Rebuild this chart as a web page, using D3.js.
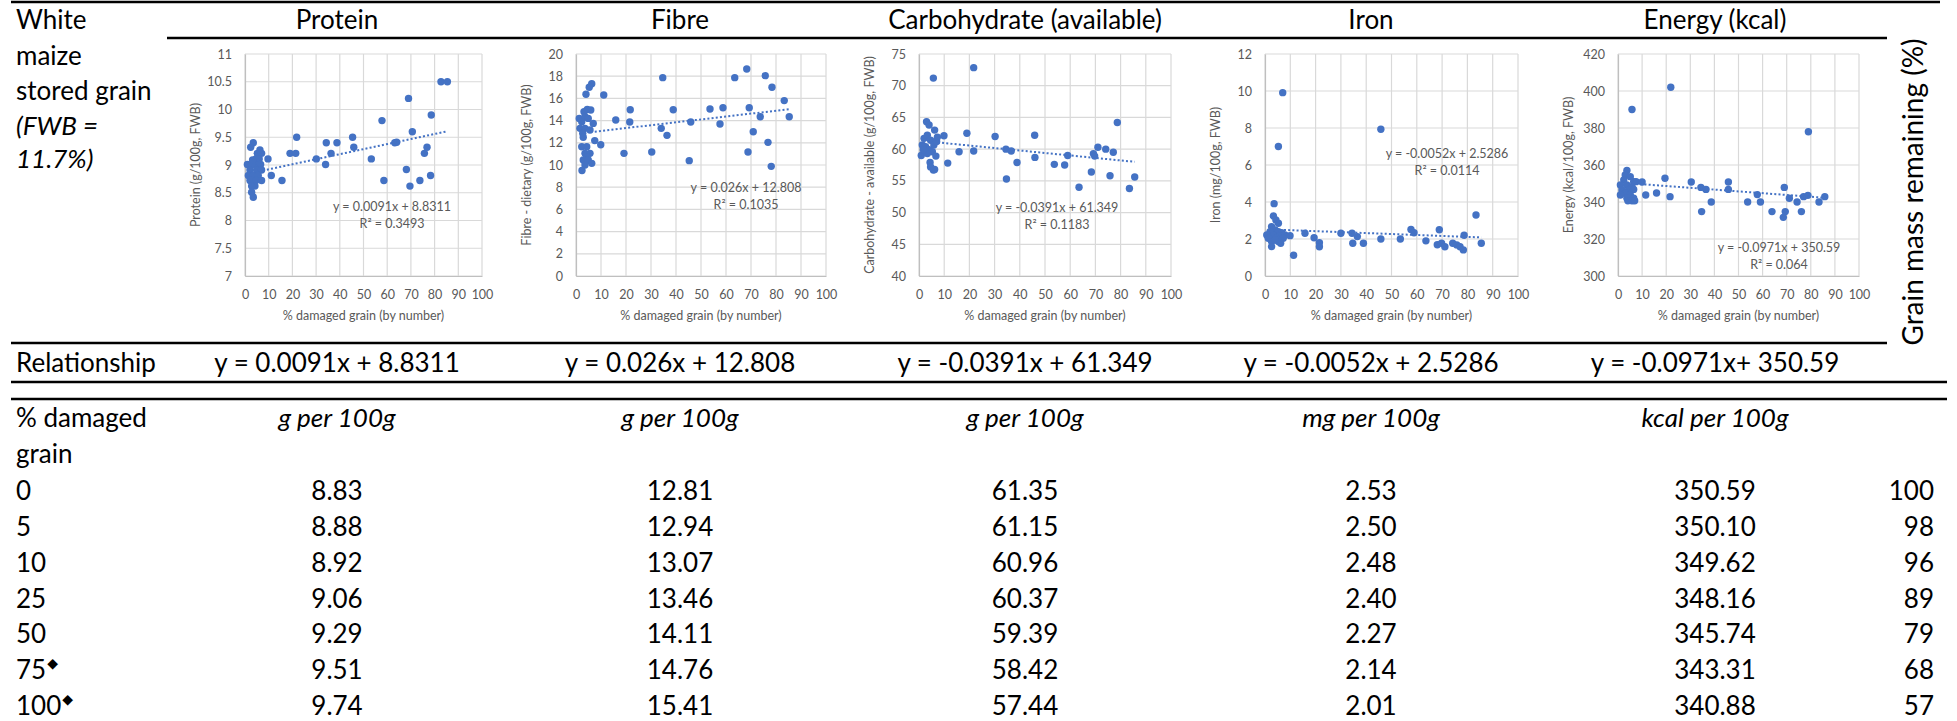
<!DOCTYPE html>
<html>
<head>
<meta charset="utf-8">
<script src="https://cdn.jsdelivr.net/npm/d3@7"></script>
<style>
  body { margin: 0; background: #fff; }
  text { font-family: Lato, "Noto Sans", "DejaVu Sans", sans-serif; }
</style>
</head>
<body>
<svg id="chart" width="1957" height="721"></svg>
<script>
// ---- Data -------------------------------------------------------------
const nutrients = ["Protein", "Fibre", "Carbohydrate (available)", "Iron", "Energy (kcal)"];
const yTitles = ["Protein (g/100g, FWB)", "Fibre - dietary (g/100g, FWB)",
  "Carbohydrate - available (g/100g, FWB)", "Iron (mg/100g, FWB)", "Energy (kcal/100g, FWB)"];
const yDomains = [[7, 11], [0, 20], [40, 75], [0, 12], [300, 420]];
const yTickSteps = [0.5, 2, 5, 2, 20];
const xTicks = [0, 10, 20, 30, 40, 50, 60, 70, 80, 90, 100];

// Linear trendlines (y = slope * x + intercept) and their R²
const slopes = ["0.0091", "0.026", "-0.0391", "-0.0052", "-0.0971"];
const intercepts = ["8.8311", "12.808", "61.349", "2.5286", "350.59"];
const rSquared = ["0.3493", "0.1035", "0.1183", "0.0114", "0.064"];
const relationships = ["y = 0.0091x + 8.8311", "y = 0.026x + 12.808", "y = -0.0391x + 61.349",
  "y = -0.0052x + 2.5286", "y = -0.0971x+ 350.59"];

// Samples: [% damaged grain, content]
const proteinPts = [
  [3.5,9.40],[2.4,9.32],[1.0,9.01],[5.2,9.21],[7.0,9.21],[4.6,9.11],[6.0,9.11],[4.2,9.01],[6.6,9.01],
  [2.8,9.01],[2.1,8.91],[4.9,8.91],[7.0,8.91],[1.4,8.81],[3.5,8.81],[5.6,8.81],[2.1,8.72],[4.6,8.72],
  [7.0,8.72],[4.2,8.62],[2.8,8.62],[2.8,8.51],[3.5,8.42],[6.3,9.27],[3.2,9.09],
  [9.7,9.11],[11.1,8.81],[15.6,8.72],[19.0,9.21],[21.4,9.21],[21.8,9.5],[30.1,9.11],[34.0,9.01],
  [34.3,9.4],[36.3,9.21],[38.8,9.4],[45.4,9.5],[45.9,9.32],[53.3,9.11],[57.8,9.8],[58.6,8.72],
  [63.2,9.4],[64.0,9.41],[68.1,8.92],[69.0,10.2],[69.6,8.62],[70.6,9.6],[73.8,8.72],[75.7,9.21],[76.8,9.32],
  [78.3,8.81],[78.6,9.9],[82.7,10.5],[85.4,10.5]
];
const fibrePts = [
  [6.3,17.33],[5.3,17.0],[4.0,16.37],[4.5,15.0],[3.2,14.8],[1.3,14.2],[3.6,14.35],[4.9,14.2],[2.3,13.9],
  [6.9,13.75],[1.6,13.3],[3.6,13.3],[5.6,13.15],[2.7,12.85],[2.9,12.5],[7.5,12.2],[2.3,11.65],[4.3,11.65],
  [3.6,11.05],[5.6,11.05],[4.3,10.75],[2.9,10.45],[4.9,10.45],[6.3,10.15],[3.6,10.0],[2.4,9.5],[5.9,14.95],
  [9.9,11.83],[11.1,16.3],[15.9,14.05],[19.2,11.05],[21.5,13.87],[21.7,14.98],[30.3,11.17],[34.1,13.3],
  [34.7,17.87],[36.4,12.67],[38.9,14.98],[45.3,10.39],[45.9,13.87],[53.6,15.05],[57.6,13.7],[58.8,15.16],
  [63.5,17.87],[68.3,18.65],[68.8,11.17],[69.3,15.16],[70.9,13.0],[73.7,14.35],[75.7,18.05],[76.8,12.04],
  [78.1,9.88],[78.4,17.0],[83.3,15.8],[85.3,14.35]
];
const carbPts = [
  [3.0,64.33],[4.0,63.8],[6.2,63.0],[2.0,61.7],[3.3,62.2],[4.6,61.4],[1.3,60.65],[2.6,60.4],[5.9,60.65],
  [7.0,61.2],[7.3,61.9],[4.0,59.9],[0.9,59.0],[5.3,59.6],[6.7,58.9],[4.4,57.9],[4.6,57.2],[5.7,56.7],
  [6.2,56.8],[3.3,59.3],[1.7,59.9],[5.7,71.2],
  [9.9,62.1],[11.4,57.8],[15.9,59.6],[19.0,62.5],[21.7,72.85],[21.7,59.7],[30.2,62.0],[34.5,60.0],
  [34.7,55.3],[36.6,59.7],[38.9,57.9],[45.9,62.2],[46.0,58.7],[53.7,57.6],[57.8,57.5],[59.0,59.0],
  [63.5,54.0],[68.4,56.4],[69.2,59.3],[69.7,58.9],[71.0,60.3],[74.1,60.0],[75.8,55.8],[77.1,59.5],
  [78.7,64.2],[83.5,53.8],[85.6,55.6]
];
const ironPts = [
  [7.0,9.91],[5.3,7.0],[3.6,3.91],[3.3,3.24],[4.3,3.03],[5.3,2.85],[2.6,2.67],[4.0,2.49],[2.0,2.4],
  [5.3,2.4],[6.6,2.34],[0.7,2.22],[3.3,2.22],[5.9,2.16],[7.9,2.22],[1.3,2.04],[4.6,2.04],[7.2,2.04],
  [2.6,1.86],[5.3,1.86],[2.6,1.59],[6.2,1.77],[4.0,1.95],
  [9.9,2.18],[11.3,1.12],[15.8,2.31],[19.4,2.07],[21.5,1.8],[21.5,1.58],[30.0,2.31],[34.4,2.31],
  [34.7,1.77],[36.5,2.13],[38.9,1.77],[45.8,7.93],[45.8,2.0],[53.5,2.0],[57.7,2.52],[58.9,2.34],
  [63.6,1.9],[68.1,1.69],[68.9,2.5],[69.8,1.77],[71.1,1.58],[74.2,1.77],[75.8,1.68],[77.1,1.58],
  [78.4,1.41],[78.7,2.2],[83.4,3.3],[85.5,1.77]
];
const energyPts = [
  [5.8,390],[3.7,357],[3.0,354.6],[5.1,353.7],[2.4,351.9],[6.5,351],[1.0,349.2],[3.7,349.2],[5.8,348.3],
  [1.7,346.5],[4.4,346.5],[6.5,346.8],[3.0,344.7],[5.1,343.8],[1.0,343.8],[3.7,342.0],[6.5,342.0],
  [4.1,340.7],[5.8,340.7],[6.9,340.7],[7.5,351.0],
  [10.0,350.8],[11.5,343.8],[16.0,344.9],[19.5,352.8],[21.6,342.9],[21.9,402],[30.4,350.8],[34.4,347.9],
  [34.7,334.8],[36.5,346.8],[38.7,340],[45.8,350.8],[45.8,346.8],[53.8,340],[57.8,344],[59.1,340],
  [63.9,334.8],[68.6,331.7],[69.0,347.9],[69.4,334.8],[71.1,342],[74.3,340],[76.1,334.8],[77.0,342.9],
  [78.8,343.6],[79.0,378],[83.4,340],[85.8,342.9]
];
const samples = [proteinPts, fibrePts, carbPts, ironPts, energyPts];

// Predicted composition table
const damageLevels = ["0", "5", "10", "25", "50", "75", "100"];
const flaggedLevels = ["75", "100"];
const units = ["g per 100g", "g per 100g", "g per 100g", "mg per 100g", "kcal per 100g"];
const proteinVals = ["8.83", "8.88", "8.92", "9.06", "9.29", "9.51", "9.74"];
const fibreVals = ["12.81", "12.94", "13.07", "13.46", "14.11", "14.76", "15.41"];
const carbVals = ["61.35", "61.15", "60.96", "60.37", "59.39", "58.42", "57.44"];
const ironVals = ["2.53", "2.50", "2.48", "2.40", "2.27", "2.14", "2.01"];
const energyVals = ["350.59", "350.10", "349.62", "348.16", "345.74", "343.31", "340.88"];
const tableVals = [proteinVals, fibreVals, carbVals, ironVals, energyVals];
const grainMass = ["100", "98", "96", "89", "79", "68", "57"];

// ---- Layout -----------------------------------------------------------
const plotLeft = [245, 576, 919, 1265, 1618];
const plotRight = [482, 826, 1171, 1518, 1859];
const plotTop = 54, plotBottom = 276;
const colCenter = [337, 680, 1025, 1371, 1715];
const eqPos = [[392, 206], [746, 187], [1057, 207], [1447, 153], [1779, 247]];
const bigFont = 26;
const gray = "#595959";
const blue = "#4472C4";

const svg = d3.select("#chart");
svg.append("rect").attr("width", 1957).attr("height", 721).attr("fill", "#fff");

// ---- Rules ------------------------------------------------------------
const rules = [
  [11, 1940, 2], [167, 1887, 38], [11, 1887, 343], [11, 1947, 382], [11, 1947, 399]
];
svg.selectAll("line.rule").data(rules).join("line")
  .attr("class", "rule")
  .attr("x1", d => d[0]).attr("x2", d => d[1])
  .attr("y1", d => d[2]).attr("y2", d => d[2])
  .attr("stroke", "#000").attr("stroke-width", 2.5);

// ---- Left header text --------------------------------------------------
const leftHead = [["White", false, 29], ["maize", false, 65], ["stored grain", false, 100],
  ["(FWB =", true, 135], ["11.7%)", true, 168]];
svg.selectAll("text.lefthead").data(leftHead).join("text")
  .attr("class", "lefthead")
  .attr("x", 16).attr("y", d => d[2])
  .attr("font-size", bigFont)
  .attr("font-style", d => d[1] ? "italic" : "normal")
  .text(d => d[0]);

// Column headers
svg.selectAll("text.colhead").data(nutrients).join("text")
  .attr("class", "colhead")
  .attr("x", (d, i) => colCenter[i]).attr("y", 29)
  .attr("text-anchor", "middle").attr("font-size", bigFont)
  .text(d => d);

// Right-hand vertical label
svg.append("text")
  .attr("transform", "translate(1912,192) rotate(-90)")
  .attr("text-anchor", "middle").attr("dominant-baseline", "central")
  .attr("font-size", 28)
  .text("Grain mass remaining (%)");

// ---- Scatter panels -----------------------------------------------------
nutrients.forEach((name, i) => {
  const g = svg.append("g");
  const x = d3.scaleLinear().domain([0, 100]).range([plotLeft[i], plotRight[i]]);
  const y = d3.scaleLinear().domain(yDomains[i]).range([plotBottom, plotTop]);
  const yTicks = d3.range(yDomains[i][0], yDomains[i][1] + yTickSteps[i] / 2, yTickSteps[i]);

  // gridlines
  g.selectAll("line.gx").data(xTicks).join("line")
    .attr("x1", d => x(d)).attr("x2", d => x(d))
    .attr("y1", plotTop).attr("y2", plotBottom)
    .attr("stroke", "#d9d9d9").attr("stroke-width", 1.2);
  g.selectAll("line.gy").data(yTicks).join("line")
    .attr("x1", plotLeft[i]).attr("x2", plotRight[i])
    .attr("y1", d => y(d)).attr("y2", d => y(d))
    .attr("stroke", "#d9d9d9").attr("stroke-width", 1.2);

  // axes
  const xAxis = g.append("g").attr("transform", `translate(0,${plotBottom})`)
    .call(d3.axisBottom(x).tickValues(xTicks).tickSize(0).tickPadding(14).tickFormat(d3.format("d")));
  xAxis.select(".domain").attr("stroke", "#bfbfbf").attr("stroke-width", 1.2);
  const yAxis = g.append("g").attr("transform", `translate(${plotLeft[i]},0)`)
    .call(d3.axisLeft(y).tickValues(yTicks).tickSize(0).tickPadding(13).tickFormat(d3.format("~g")));
  yAxis.select(".domain").attr("stroke", "#bfbfbf").attr("stroke-width", 1.2);
  g.selectAll(".tick text").attr("fill", gray).attr("font-size", 12.5)
    .attr("font-family", "Lato, 'Noto Sans', sans-serif");

  // axis titles
  g.append("text")
    .attr("x", (plotLeft[i] + plotRight[i]) / 2).attr("y", 320)
    .attr("text-anchor", "middle").attr("font-size", 12.5).attr("fill", gray)
    .text("% damaged grain (by number)");
  g.append("text")
    .attr("transform", `translate(${plotLeft[i] - 50},${(plotTop + plotBottom) / 2}) rotate(-90)`)
    .attr("text-anchor", "middle").attr("dominant-baseline", "central")
    .attr("font-size", 12.5).attr("fill", gray)
    .text(yTitles[i]);

  // points
  g.selectAll("circle").data(samples[i]).join("circle")
    .attr("cx", d => x(d[0])).attr("cy", d => y(d[1]))
    .attr("r", 3.7).attr("fill", blue);

  // linear trendline across the sampled range
  const m = +slopes[i], b = +intercepts[i];
  const ext = d3.extent(samples[i], d => d[0]);
  const x0 = Math.max(ext[0], 7.5);
  g.append("line")
    .attr("x1", x(x0)).attr("x2", x(ext[1]))
    .attr("y1", y(m * x0 + b)).attr("y2", y(m * ext[1] + b))
    .attr("stroke", blue).attr("stroke-width", 2).attr("stroke-dasharray", "2,2.2");

  // equation label
  const eqText = `y = ${slopes[i]}x + ${intercepts[i]}`;
  g.append("text")
    .attr("x", eqPos[i][0]).attr("y", eqPos[i][1])
    .attr("text-anchor", "middle").attr("dominant-baseline", "central")
    .attr("font-size", 12.5).attr("fill", gray).text(eqText);
  g.append("text")
    .attr("x", eqPos[i][0]).attr("y", eqPos[i][1] + 17)
    .attr("text-anchor", "middle").attr("dominant-baseline", "central")
    .attr("font-size", 12.5).attr("fill", gray).text(`R² = ${rSquared[i]}`);
});

// ---- Relationship row ---------------------------------------------------
svg.append("text").attr("x", 16).attr("y", 372).attr("font-size", bigFont).text("Relationship");
svg.selectAll("text.rel").data(relationships).join("text")
  .attr("class", "rel")
  .attr("x", (d, i) => colCenter[i]).attr("y", 372)
  .attr("text-anchor", "middle").attr("font-size", bigFont)
  .text(d => d);

// ---- Table --------------------------------------------------------------
svg.append("text").attr("x", 16).attr("y", 427).attr("font-size", bigFont).text("% damaged");
svg.append("text").attr("x", 16).attr("y", 463).attr("font-size", bigFont).text("grain");
svg.selectAll("text.unit").data(units).join("text")
  .attr("class", "unit")
  .attr("x", (d, i) => colCenter[i]).attr("y", 427)
  .attr("text-anchor", "middle").attr("font-size", bigFont).attr("font-style", "italic")
  .text(d => d);

const rowY = d3.scaleLinear().domain([0, 6]).range([500, 715]);
damageLevels.forEach((lvl, r) => {
  const t = svg.append("text").attr("x", 16).attr("y", rowY(r)).attr("font-size", bigFont).text(lvl);
  if (flaggedLevels.includes(lvl)) {
    t.append("tspan").attr("font-size", 14).attr("dy", -11).attr("dx", 1)
      .attr("font-family", "'DejaVu Sans', sans-serif").text("◆");
  }
});
tableVals.forEach((vals, c) => {
  svg.selectAll(`text.val${c}`).data(vals).join("text")
    .attr("class", `val${c}`)
    .attr("x", colCenter[c]).attr("y", (d, r) => rowY(r))
    .attr("text-anchor", "middle").attr("font-size", bigFont)
    .text(d => d);
});
svg.selectAll("text.mass").data(grainMass).join("text")
  .attr("class", "mass")
  .attr("x", 1934).attr("y", (d, r) => rowY(r))
  .attr("text-anchor", "end").attr("font-size", bigFont)
  .text(d => d);
</script>
</body>
</html>
